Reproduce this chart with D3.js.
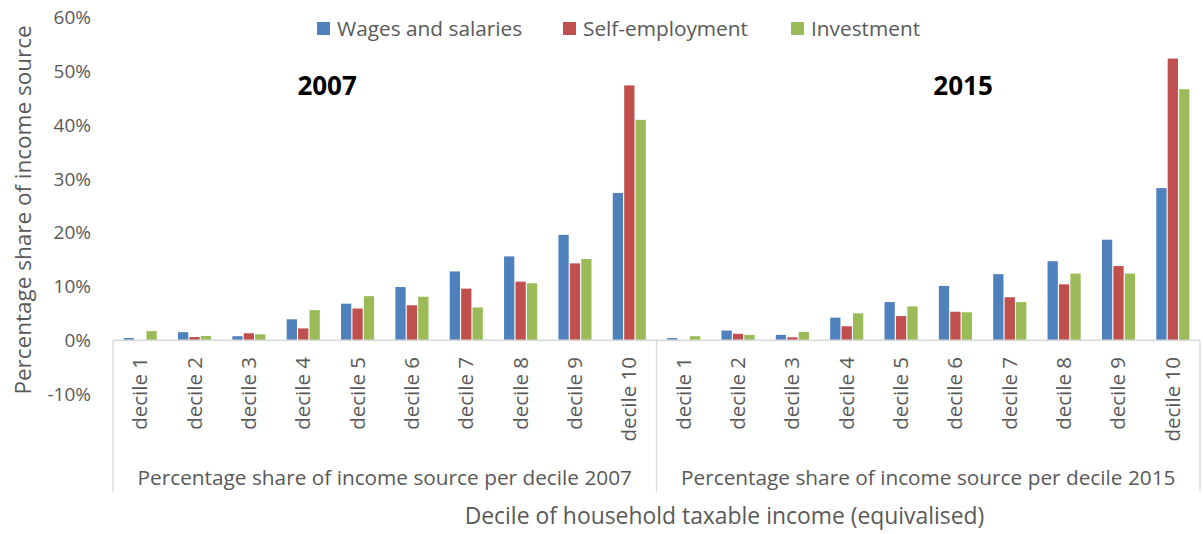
<!DOCTYPE html>
<html><head><meta charset="utf-8">
<script src="https://cdn.jsdelivr.net/npm/d3@7"></script>
<style>body{margin:0;background:#fff}svg{display:block}text{font-family:"Open Sans",sans-serif;fill:#595959}</style>
</head><body><svg id="c" width="1203" height="534"></svg>
<script>
const years = ["2007", "2015"];
const groupLabels = ["Percentage share of income source per decile 2007", "Percentage share of income source per decile 2015"];
const deciles = ["decile 1","decile 2","decile 3","decile 4","decile 5","decile 6","decile 7","decile 8","decile 9","decile 10"];
const seriesNames = ["Wages and salaries", "Self-employment", "Investment"];
const colors = ["#4F81BD", "#C0504D", "#9BBB59"];
const wages2007 = [0.004, 0.015, 0.0075, 0.039, 0.068, 0.099, 0.128, 0.156, 0.196, 0.274];
const self2007  = [0.0, 0.006, 0.013, 0.022, 0.059, 0.065, 0.096, 0.109, 0.143, 0.474];
const invest2007= [0.017, 0.008, 0.011, 0.056, 0.082, 0.081, 0.061, 0.106, 0.151, 0.410];
const wages2015 = [0.004, 0.018, 0.010, 0.042, 0.071, 0.101, 0.123, 0.147, 0.187, 0.283];
const self2015  = [0.0, 0.012, 0.0055, 0.026, 0.045, 0.053, 0.080, 0.104, 0.138, 0.524];
const invest2015= [0.0075, 0.010, 0.0155, 0.050, 0.063, 0.052, 0.071, 0.124, 0.124, 0.467];
const yTicks = [-0.1, 0, 0.1, 0.2, 0.3, 0.4, 0.5, 0.6];

const data = {
  "2007": [wages2007, self2007, invest2007],
  "2015": [wages2015, self2015, invest2015]
};

const svg = d3.select("#c");
const left = 113, right = 1200;
const y = d3.scaleLinear().domain([-0.1, 0.6]).range([394, 17.7]);
const xYear = d3.scaleBand().domain(years).range([left, right]);
const xDec = d3.scaleBand().domain(deciles).range([0, xYear.bandwidth()]);
const xSer = d3.scaleBand().domain(seriesNames).range([0, xDec.bandwidth()]).paddingInner(0.1).paddingOuter(0.93);
const y0 = y(0);

// bars
years.forEach(yr => {
  const g = svg.append("g").attr("transform", `translate(${xYear(yr)},0)`);
  seriesNames.forEach((s, si) => {
    g.selectAll(null).data(data[yr][si]).join("rect")
      .attr("x", (d, i) => xDec(deciles[i]) + xSer(s))
      .attr("width", xSer.bandwidth())
      .attr("y", d => Math.min(y(d), y0))
      .attr("height", d => Math.abs(y0 - y(d)))
      .attr("fill", colors[si]);
  });
});

// y axis labels
const pct = d3.format(".0%");
const yAxis = d3.axisLeft(y).tickValues(yTicks).tickFormat(d => pct(d).replace("\u2212", "-")).tickSize(0).tickPadding(0);
const ya = svg.append("g").attr("transform", "translate(91,0)").call(yAxis);
ya.select(".domain").remove();
ya.selectAll("text").style("font-size", "19px").attr("fill", "#595959").style("font-family", '"Open Sans",sans-serif');

// axis box lines
const lineColor = "#D9D9D9";
svg.append("line").attr("x1", left).attr("x2", right).attr("y1", y0).attr("y2", y0).attr("stroke", lineColor).attr("stroke-width", 1.3);
[left, xYear("2015"), right].forEach(x => {
  svg.append("line").attr("x1", x).attr("x2", x).attr("y1", y0).attr("y2", 492).attr("stroke", lineColor).attr("stroke-width", 1.3);
});

// decile labels, group labels, year labels
const yearPos = [0.394, 0.564];
years.forEach((yr, yi) => {
  const g = svg.append("g").attr("transform", `translate(${xYear(yr)},0)`);
  g.selectAll(null).data(deciles).join("text")
    .attr("transform", d => `translate(${xDec(d) + xDec.bandwidth() / 2 + 7},357) rotate(-90)`)
    .attr("text-anchor", "end")
    .style("font-size", "20.5px")
    .text(d => d);
  svg.append("text")
    .attr("x", xYear(yr) + xYear.bandwidth() / 2)
    .attr("y", 485)
    .attr("text-anchor", "middle")
    .style("font-size", "20.8px")
    .text(groupLabels[yi]);
  svg.append("text")
    .attr("x", xYear(yr) + xYear.bandwidth() * yearPos[yi])
    .attr("y", 95)
    .attr("text-anchor", "middle")
    .style("font-size", "26px").style("font-weight", "bold").style("fill", "#000")
    .text(yr);
});

// axis titles
svg.append("text").attr("x", 724.5).attr("y", 524).attr("text-anchor", "middle").style("font-size", "22.9px").text("Decile of household taxable income (equivalised)");
svg.append("text").attr("transform", "translate(31,210) rotate(-90)").attr("text-anchor", "middle").style("font-size", "22.5px").text("Percentage share of income source");

// legend
const legendX = [317, 563, 791];
seriesNames.forEach((s, i) => {
  svg.append("rect").attr("x", legendX[i]).attr("y", 22).attr("width", 13).attr("height", 13).attr("fill", colors[i]);
  svg.append("text").attr("x", legendX[i] + 20).attr("y", 36).style("font-size", "20.8px").text(s);
});
</script></body></html>
